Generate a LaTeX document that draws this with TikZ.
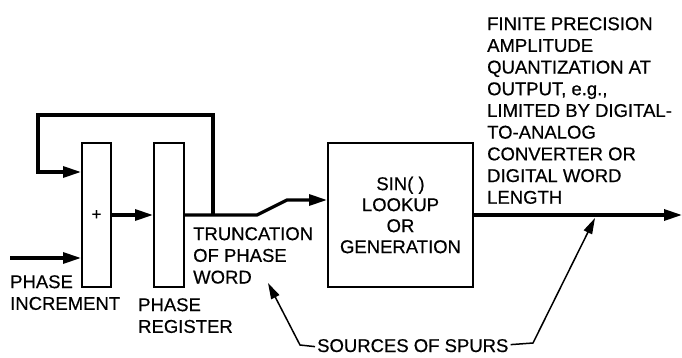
\documentclass[tikz,border=0pt]{standalone}
\usepackage{fontspec}
\setmainfont[FakeBold=0.5]{Liberation Sans}
\usetikzlibrary{arrows.meta,positioning,calc}

\begin{document}
\begin{tikzpicture}[
  x=1pt,y=-1pt,
  blk/.style={draw,line width=2pt,inner sep=0pt},
  sig/.style={line width=3.2pt,-{Triangle[length=18pt,width=11pt]}},
  spur/.style={line width=1.5pt,-{Triangle[length=16pt,width=9pt]}},
  lbl/.style={font=\fontsize{18.5}{21.7}\selectfont,inner sep=0pt,align=left,anchor=north west}
]
  \useasboundingbox (0,0) rectangle (682,358);
  % blocks
  \node[blk,minimum width=29pt,minimum height=144pt,font=\fontsize{17}{20}\selectfont] (add) at (96.5,215) {+};
  \node[blk,minimum width=30pt,minimum height=144pt] (reg) at (169,215) {};
  \node[blk,minimum width=145pt,minimum height=144pt,align=center,
    font=\fontsize{18.5}{21}\selectfont] (sin) at (400.5,215) {SIN( )\\LOOKUP\\OR\\GENERATION};
  % labels
  \node[lbl] (inc) at (10,275) {PHASE\\INCREMENT};
  \node[lbl] (preg) at (138,298) {PHASE\\REGISTER};
  \node[lbl] (trunc) at (193,227) {TRUNCATION\\OF PHASE\\WORD};
  \node[lbl] (quant) at (487,17) {FINITE PRECISION\\AMPLITUDE\\QUANTIZATION AT\\OUTPUT, e.g.,\\LIMITED BY DIGITAL-\\TO-ANALOG\\CONVERTER OR\\DIGITAL WORD\\LENGTH};
  \node[lbl,anchor=base west] (spurs) at (317,352) {SOURCES OF SPURS};
  % signal path
  \coordinate (in) at (10,258);
  \coordinate (tap) at (213,215);
  \coordinate (kink) at (287,200);
  \coordinate (out) at (682,215);
  \draw[sig] (in) -- (in -| add.west);
  \draw[sig] (tap) |- (38,115) |- ([yshift=43pt]add.west);
  \draw[sig] (add.east) -- (reg.west);
  \draw[sig] (reg.east) -- (257,215) -- (kink) -- (kink -| sin.west);
  \draw[sig] (sin.east) -- (out);
  % spur pointers
  \coordinate (spurA) at (268,283);
  \coordinate (spurB) at (595,218);
  \draw[spur] ([xshift=-2pt,yshift=-1pt]spurs.west) -- (300,345) -- (spurA);
  \draw[spur] ([xshift=2pt,yshift=1pt]spurs.east) -- (533,343) -- (spurB);
\end{tikzpicture}
\end{document}
